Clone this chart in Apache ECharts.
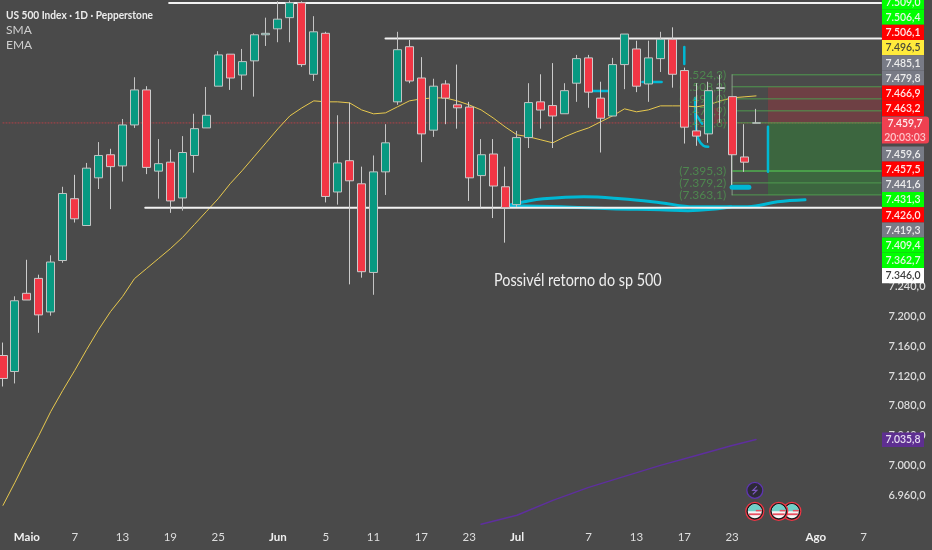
<!DOCTYPE html>
<html><head><meta charset="utf-8">
<style>html,body{margin:0;padding:0;background:#4a4a4a}#c{width:932px;height:550px}</style>
<script src="https://cdn.jsdelivr.net/npm/echarts@6/dist/echarts.min.js"></script>
</head><body><div id="c"></div>
<script>
// ---- data ----
const BAR_COUNT = 75;
const tickBars   = [2,6,10,14,18,23,27,31,35,39,43,49,53,57,61,68,72];
const tickLabels = ['Maio','7','13','19','25','Jun','5','11','17','23','Jul','7','13','17','23','Ago','7'];
const monthLabels = ['Maio','Jun','Jul','Ago'];
const priceTicks = [6960,7000,7040,7080,7120,7160,7200,7240];
// [open, close, low, high]
const candles = [
[7147.5,7116.7,7105.9,7164.9],[7126,7221,7110,7227],[7231,7222,7222,7276],[7251,7202,7178,7256],
[7206,7273,7201,7282],[7275,7365,7272,7374],[7358,7331,7326,7390],[7322,7399,7322,7406],
[7386,7416,7371,7434],[7417,7401,7344,7425],[7402,7457,7381,7465],[7457,7504,7453,7521],
[7504,7400,7391,7509],[7395,7405,7358,7438],[7407,7355,7339,7424],[7359,7420,7342,7442],
[7416,7452,7393,7472],[7453,7470,7453,7508],[7509,7551,7509,7556],[7552,7520,7504,7552],
[7524,7542,7504,7559],[7543,7578,7495,7580],[7578,7580,7563,7601],[7586,7599,7568,7623],
[7601,7621,7568,7624],[7621,7538,7535,7623],[7525,7582,7516,7603],[7580,7361,7353,7582],
[7367,7406,7350,7470],[7409,7382,7243,7487],[7378,7260,7252,7401],[7259,7394,7229,7416],
[7394,7433,7363,7458],[7488,7558,7484,7582],[7562,7516,7513,7571],[7520,7445,7407,7548],
[7450,7509,7441,7519],[7512,7493,7458,7517],[7484,7480,7452,7538],[7481,7386,7355,7488],
[7389,7417,7346,7438],[7418,7375,7332,7438],[7374,7346,7299,7401],[7350,7440,7347,7449],
[7440,7487,7426,7513],[7488,7477,7452,7525],[7483,7469,7426,7540],[7472,7503,7472,7513],
[7513,7546,7488,7551],[7547,7501,7480,7551],[7493,7466,7420,7515],[7469,7538,7469,7547],
[7538,7579,7505,7579],[7559,7509,7501,7570],[7512,7547,7488,7570],[7546,7572,7528,7582],
[7572,7525,7507,7588],[7530,7454,7432,7534],[7449,7442,7429,7513],[7445,7503,7433,7515],
[7506,7507,7460,7524],[7495,7417,7374,7495],[7414,7407,7394,7458],[7459.4,7459.8,7459.4,7478.6]
];
const yellowAverage = [6946.4,6977.2,7009.4,7040.2,7072.4,7100.6,7127.4,7155.5,7182.3,7206.5,7226.6,7250.7,
7264.1,7277.5,7290.9,7305.7,7323.1,7340.5,7357.9,7378,7395.5,7414.2,7433,7451.8,7469.2,7479.9,7489.3,7488,
7488,7486.6,7477.2,7471.9,7473.2,7481.3,7489.3,7492,7493.3,7493.3,7489.3,7483.9,7477.2,7466.5,7454.5,7443.7,
7441.1,7437,7433,7441.1,7447.7,7453.1,7461.2,7469.2,7478.6,7474.6,7477.2,7482.6,7482.6,7482.6,7481.3,7483.9,
7489.3,7493.3,7494.7,7496];
const purpleBars = [40,43,46,49,52,55,58,61,63];
const purpleValues = [6920.9,6933,6953.1,6970.5,6985.3,7000,7013.4,7026.8,7034.9];
const currentPrice = 7459.7;
const levelLines = [[13.9,7620.6],[32,7573],[11.9,7345.8]];   // [first bar, price]
const fibPrices = [7524.3,7508.2,7492,7475.9,7459.8,7395.3,7379.2,7363.1];
const fibLabels = ['(7.524,3)','(7.508,2)','(7.492,0)','(7.475,9)','(7.459,8)','(7.395,3)','(7.379,2)','(7.363,1)'];
const fibStartBar = 61;
const zoneStartBar = 64;
const chartEndBar = 73.46;
const redZone = [7459.7,7508.2];
const greenZone = [7363.1,7459.7];
const smallRedZone = [[59.5,7480],[60,7460]];
const strokes = [
  [[57,7561.7],[57,7538.9]],
  [[64,7454.5],[64,7394.1]],
  [[49.2,7502.7],[50.6,7502.7]],
  [[53.5,7514.8],[55.1,7514.8]],
  [[42.5,7349.9],[43.6,7353.9],[45.2,7357.9],[48.6,7360.6],[51.7,7357.9],[55,7352.6],[57.8,7347.2],[60.6,7347.2],[62.3,7347.2],[64.8,7353.9],[67.1,7356.6]],
  [[42.5,7348.6],[46.7,7347.2],[50.8,7344.5],[55,7343.2],[57.3,7341.9],[59.8,7344.5],[60.9,7347.2]],
  [[57.9,7493.3],[58,7450.4],[58.2,7437],[58.6,7429],[59,7427.7]],
  [[58,7470.5],[58.5,7458.5]]
];
const blob = [[61,7373.4],[62.4,7373.4]];
const flagEvents = [[66,6938.3],[64.9,6938.3],[62.9,6938.3]];
const boltEvent = [62.9,6966.5];
const tagLabels = ['7.509,0','7.506,4','7.506,1','7.496,5','7.485,1','7.479,8','7.466,9','7.463,2','7.459,7','20:03:03','7.459,6','7.457,5','7.441,6','7.431,3','7.426,0','7.419,3','7.409,4','7.362,7','7.346,0'];
const tagKinds  = ['g','g','r','y','n','n','r','r','c','c','n','r','n','g','r','n','g','g','w'];
const purpleTag = '7.035,8';
const chartTitle = 'US 500 Index · 1D · Pepperstone';
const legendNames = ['SMA','EMA'];
const note = 'Possivél retorno do sp 500';

// ---- chart ----
const FONT = 'Lato, "Noto Sans", sans-serif';
const BG = '#4a4a4a', CYAN = '#00b8d4', FIB = '#4f9a4f';
const categories = Array.from({length:BAR_COUNT},(_,i)=>'b'+i);
const chart = echarts.init(document.getElementById('c'),null,{renderer:'canvas'});
const fmt = v => { const s=v.toFixed(1).replace('.',','); return s.slice(0,1)+'.'+s.slice(1); };

const lineOn = (data,color,width,z,extra) => ({
  type:'line',xAxisIndex:1,yAxisIndex:0,data,symbol:'none',silent:true,z,
  lineStyle:Object.assign({color,width,cap:'round',join:'round'},extra&&extra.ls||{}),
  smooth:extra&&extra.smooth||false
});

const series = [];
// zones
series.push({type:'line',xAxisIndex:1,data:[],silent:true,z:1,markArea:{silent:true,data:[
  [{coord:[zoneStartBar,redZone[1]],itemStyle:{color:'rgba(240,30,50,0.22)'}},{coord:[chartEndBar,redZone[0]]}],
  [{coord:[zoneStartBar,greenZone[1]],itemStyle:{color:'rgba(30,170,40,0.30)'}},{coord:[chartEndBar,greenZone[0]]}],
  [{coord:smallRedZone[0],itemStyle:{color:'rgba(240,30,50,0.25)'}},{coord:smallRedZone[1]}]
]}});
// current price
series.push(lineOn([[0,currentPrice],[chartEndBar,currentPrice]],'rgba(235,60,70,0.65)',1,1,{ls:{type:[1,2]}}));
// fib levels
fibPrices.forEach((p,i)=>series.push(lineOn([[fibStartBar,p],[chartEndBar,p]],i===5?'#4fb04f':FIB,i===5?1.5:1,2)));
series.push(lineOn([[fibStartBar,fibPrices[0]],[fibStartBar,fibPrices[7]]],'#8a9a8a',1,2));
// strokes below candles
strokes.forEach((s,i)=>series.push(lineOn(s,CYAN,i===4||i===5?3:2.5,3,{smooth:i>=4&&i<=6?0.4:false})));
// averages and level lines under candles
series.push(lineOn(yellowAverage.map((v,i)=>[i,v]),'#e8c94e',1,3));
levelLines.forEach(l=>series.push(lineOn([[l[0],l[1]],[chartEndBar,l[1]]],'#f2f2f2',2,3)));
series.push(lineOn(purpleBars.map((b,i)=>[b,purpleValues[i]]),'#5e2f9e',1.5,3));
// fib labels
series.push({type:'scatter',xAxisIndex:1,yAxisIndex:0,symbolSize:0,silent:true,z:3,
  data:fibPrices.map((p,i)=>({value:[fibStartBar,p],label:{formatter:fibLabels[i]}})),
  label:{show:true,position:'left',distance:6,color:'#4f9650',fontFamily:FONT,fontSize:12}});
// candles
series.push({type:'candlestick',xAxisIndex:0,yAxisIndex:0,data:candles,barWidth:8.5,z:4,silent:true,clip:false,
  itemStyle:{color:'#089981',color0:'#f23645',borderColor:'#c4c4c4',borderColor0:'#cccccc',borderWidth:1}});
series.push(lineOn(blob,CYAN,5,6));
// event icons
series.push({type:'custom',xAxisIndex:1,yAxisIndex:0,silent:true,z:8,clip:false,data:flagEvents,
  renderItem:(p,api)=>{const c=api.coord([api.value(0),api.value(1)]),x=c[0],y=c[1];
    return {type:'group',children:[
      {type:'circle',shape:{cx:x,cy:y,r:9},style:{fill:'#1a1a1a',stroke:'#f23645',lineWidth:1.2}},
      {type:'circle',shape:{cx:x,cy:y,r:7},style:{fill:'#f6f6f6'}},
      {type:'sector',shape:{cx:x,cy:y,r:7,r0:0,startAngle:Math.PI,endAngle:2*Math.PI},style:{fill:'#6fd0c8'}},
      {type:'rect',shape:{x:x+1,y:y-1.5,width:6,height:1.5},style:{fill:'#e85060'}},
      {type:'rect',shape:{x:x-6,y:y+2,width:12,height:1.8},style:{fill:'#e85060'}}
    ]};}});
series.push({type:'custom',xAxisIndex:1,yAxisIndex:0,silent:true,z:8,clip:false,data:[boltEvent],
  renderItem:(p,api)=>{const c=api.coord([api.value(0),api.value(1)]),x=c[0],y=c[1];
    return {type:'group',children:[
      {type:'circle',shape:{cx:x,cy:y,r:8},style:{fill:'#2d2a38',stroke:'#5e35b1',lineWidth:1.3}},
      {type:'polyline',shape:{points:[[x+2,y-4],[x-2,y],[x+2,y],[x-2,y+4]]},style:{fill:'none',stroke:'#7e57c2',lineWidth:1.2}}
    ]};}});

// right-hand tags
const TAG = {g:['#00ff00','#e6f5e6'],r:['#ff0000','#ffe8e8'],y:['#ffeb3b','#4a4a3a'],n:['#787b86','#eeeeee'],w:['#ffffff','#3a3a3a']};
const graphic = [];
const STEP = 15.2, TOP = 2;
const TAGFONT = '600 12px '+FONT, TAGSCALE = 0.87;
tagLabels.forEach((t,i)=>{
  const k=tagKinds[i]; if(k==='c')return;
  const cy=TOP+STEP*i, st=TAG[k];
  graphic.push({type:'rect',z:20,shape:{x:882,y:cy-7.6,width:42,height:15.2},style:{fill:st[0]}});
  graphic.push({type:'text',z:21,x:903,y:cy,scaleX:TAGSCALE,style:{text:t,fill:st[1],font:TAGFONT,textAlign:'center',textVerticalAlign:'middle'}});
});
{const ci=tagKinds.indexOf('c'),cy=TOP+STEP*ci;
  graphic.push({type:'rect',z:22,shape:{x:882,y:cy-7,width:47,height:27,r:[0,3,3,0]},style:{fill:'#ef4050'}});
  graphic.push({type:'text',z:23,x:905,y:cy,scaleX:TAGSCALE,style:{text:tagLabels[ci],fill:'#ffeef0',font:TAGFONT,textAlign:'center',textVerticalAlign:'middle'}});
  graphic.push({type:'text',z:23,x:905,y:cy+13.5,scaleX:TAGSCALE,style:{text:tagLabels[ci+1],fill:'#ffc4ca',font:TAGFONT,textAlign:'center',textVerticalAlign:'middle'}});
}
graphic.push({type:'rect',z:20,shape:{x:882,y:432.5,width:42,height:14.5},style:{fill:'#5e2f91'}});
graphic.push({type:'text',z:21,x:903,y:439.5,scaleX:TAGSCALE,style:{text:purpleTag,fill:'#e6def0',font:TAGFONT,textAlign:'center',textVerticalAlign:'middle'}});
// text
graphic.push({type:'text',z:21,x:6,y:15,scaleX:0.845,style:{text:chartTitle,fill:'#ececec',font:'700 12px '+FONT,textVerticalAlign:'middle'}});
legendNames.forEach((n,i)=>graphic.push({type:'text',z:21,x:6,y:30+15*i,style:{text:n,fill:'#cfcfcf',font:'12px '+FONT,textVerticalAlign:'middle'}}));
graphic.push({type:'text',z:21,x:494,y:281,scaleX:0.87,style:{text:note,fill:'#eeeeee',font:'16.5px '+FONT,textVerticalAlign:'middle'}});

chart.setOption({
  animation:false,backgroundColor:BG,
  grid:{left:1,width:886.5,top:0,height:525,containLabel:false},
  xAxis:[
    {type:'category',data:categories,boundaryGap:false,axisLine:{show:false},axisTick:{show:false},splitLine:{show:false},
     axisLabel:{interval:0,margin:6,color:'#dedede',fontFamily:FONT,fontSize:11.5,hideOverlap:false,
       formatter:(v,i)=>{const k=tickBars.indexOf(i);if(k<0)return '';const t=tickLabels[k];return monthLabels.includes(t)?'{m|'+t+'}':t;},
       rich:{m:{fontWeight:'bold',color:'#f0f0f0',fontFamily:FONT,fontSize:11.5}}}},
    {type:'value',min:0,max:74,show:false,splitLine:{show:false}}
  ],
  yAxis:{type:'value',position:'right',min:6920,max:7624.7,interval:40,axisLine:{show:false},axisTick:{show:false},splitLine:{show:false},
    axisLabel:{customValues:priceTicks,margin:1,color:'#dcdcdc',fontFamily:FONT,fontSize:11,fontWeight:600,formatter:v=>fmt(v)}},
  graphic,series
});
</script></body></html>
